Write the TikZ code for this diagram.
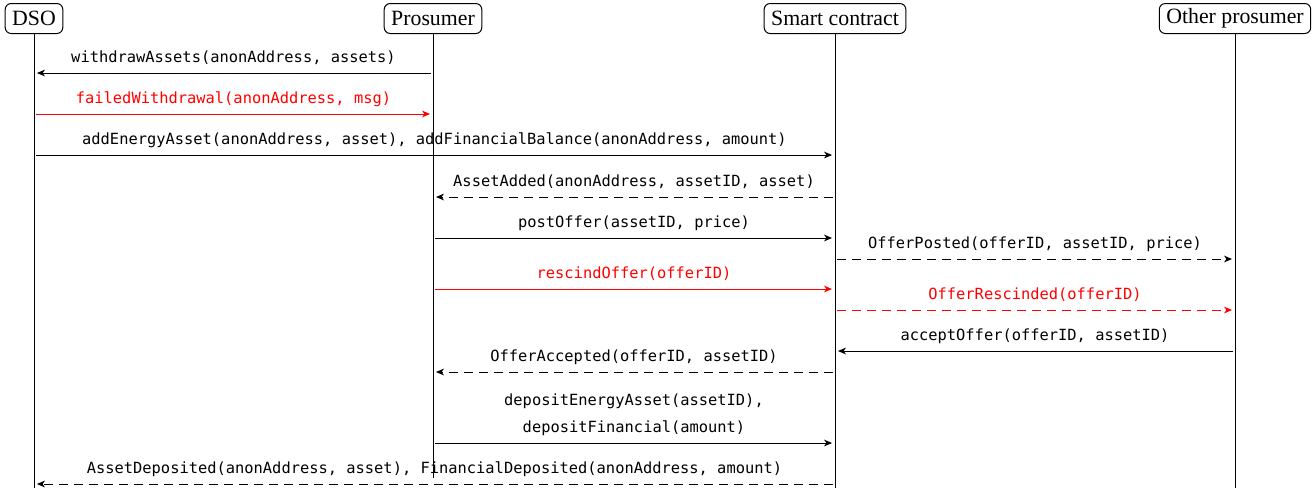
\documentclass[tikz,border=0pt]{standalone}
\usepackage{fontspec}
\setmainfont{Liberation Serif}
\setmonofont{DejaVu Sans Mono}
\usetikzlibrary{arrows.meta}

\tikzset{
  actor/.style={draw, rounded corners=3pt, anchor=north, minimum height=15pt, inner xsep=3.5pt, inner ysep=0pt, line width=0.5pt, font=\fontsize{10.9}{12}\selectfont},
  msg/.style={-{Stealth[length=4pt,width=3.4pt,inset=1.2pt]}, line width=0.5pt, shorten >=1.5pt, shorten <=1pt},
  reply/.style={msg, dash pattern=on 4.5pt off 3pt},
  lbl/.style={midway, anchor=base, yshift=5.5pt, inner sep=0pt, align=center, font=\ttfamily\fontsize{7.7}{13.5}\selectfont}
}

\begin{document}
\begin{tikzpicture}[x=0.5pt,y=-0.5pt]
    \useasboundingbox (0,0) rectangle (1315,488);
    % participants
    \node[actor] (dso) at (34,3) {DSO};
    \node[actor] (pro) at (433,3) {Prosumer};
    \node[actor] (sc) at (835,3) {Smart contract};
    \node[actor] (op) at (1235,3) {Other prosumer};
    \coordinate (dsoEnd) at (34,488);
    \coordinate (proEnd) at (433,478);
    \coordinate (scEnd) at (835,488);
    \coordinate (opEnd) at (1235,488);
    \draw[line width=0.5pt] (dso) -- (dsoEnd) (pro) -- (proEnd) (sc) -- (scEnd) (op) -- (opEnd);

    % messages
    \draw[msg] (pro |- 0,73) -- node[lbl] {withdrawAssets(anonAddress, assets)} (dso |- 0,73);
    \draw[msg, red] (dso |- 0,114) -- node[lbl] {failedWithdrawal(anonAddress, msg)} (pro |- 0,114);
    \draw[msg] (dso |- 0,155) -- node[lbl] {addEnergyAsset(anonAddress, asset), addFinancialBalance(anonAddress, amount)} (sc |- 0,155);
    \draw[reply] (sc |- 0,197) -- node[lbl] {AssetAdded(anonAddress, assetID, asset)} (pro |- 0,197);
    \draw[msg] (pro |- 0,238) -- node[lbl] {postOffer(assetID, price)} (sc |- 0,238);
    \draw[reply] (sc |- 0,259) -- node[lbl] {OfferPosted(offerID, assetID, price)} (op |- 0,259);
    \draw[msg, red] (pro |- 0,289) -- node[lbl] {rescindOffer(offerID)} (sc |- 0,289);
    \draw[reply, red] (sc |- 0,310) -- node[lbl] {OfferRescinded(offerID)} (op |- 0,310);
    \draw[msg] (op |- 0,351) -- node[lbl] {acceptOffer(offerID, assetID)} (sc |- 0,351);
    \draw[reply] (sc |- 0,372) -- node[lbl] {OfferAccepted(offerID, assetID)} (pro |- 0,372);
    \draw[msg] (pro |- 0,443) -- node[lbl] {depositEnergyAsset(assetID),\\depositFinancial(amount)} (sc |- 0,443);
    \draw[reply] (sc |- 0,484) -- node[lbl] {AssetDeposited(anonAddress, asset), FinancialDeposited(anonAddress, amount)} (dso |- 0,484);
\end{tikzpicture}
\end{document}
